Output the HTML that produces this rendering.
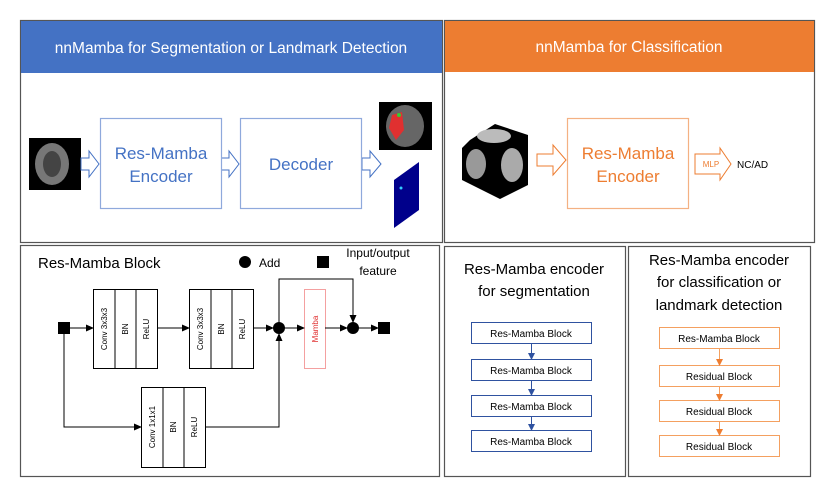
<!DOCTYPE html>
<html><head><meta charset="utf-8"><style>
body{margin:0;background:#fff;}
svg{display:block;font-family:"Liberation Sans",sans-serif;}
</style></head><body>
<svg width="831" height="497" viewBox="0 0 831 497" xmlns="http://www.w3.org/2000/svg">
<defs>
<marker id="ab" markerWidth="8" markerHeight="8" refX="7" refY="4" orient="auto" markerUnits="userSpaceOnUse"><path d="M0,0.5 L8,4 L0,7.5Z" fill="#000"/></marker>
<marker id="abl" markerWidth="7" markerHeight="7" refX="6" refY="3.5" orient="auto" markerUnits="userSpaceOnUse"><path d="M0,0 L7,3.5 L0,7Z" fill="#2f52a0"/></marker>
<marker id="aor" markerWidth="7" markerHeight="7" refX="6" refY="3.5" orient="auto" markerUnits="userSpaceOnUse"><path d="M0,0 L7,3.5 L0,7Z" fill="#ed7d31"/></marker>
</defs>
<rect x="20.5" y="20.5" width="422" height="222" fill="#fff" stroke="#555" stroke-width="1.2"/>
<rect x="21" y="21" width="421" height="52" fill="#4472c4"/>
<text x="231" y="53" font-size="15.5" fill="#fff" text-anchor="middle">nnMamba for Segmentation or Landmark Detection</text>
<rect x="29" y="138" width="52" height="52" fill="#000"/>
<ellipse cx="52" cy="164" rx="17" ry="21" fill="#777"/>
<ellipse cx="52" cy="164" rx="9" ry="13" fill="#444"/>
<g fill="#fff" stroke="#4472c4" stroke-width="1">
<path d="M81,158 L89,158 L89,151 L99,164 L89,177 L89,170 L81,170Z"/>
<path d="M221,158 L229,158 L229,151 L239,164 L229,177 L229,170 L221,170Z"/>
<path d="M362,158 L370,158 L370,151 L381,164 L370,177 L370,170 L362,170Z"/>
</g>
<rect x="100.5" y="118.5" width="121" height="90" fill="#fff" stroke="#8fa9dc" stroke-width="1.2"/>
<text x="161" y="159" font-size="17" fill="#4472c4" text-anchor="middle">Res-Mamba</text>
<text x="161" y="182" font-size="17" fill="#4472c4" text-anchor="middle">Encoder</text>
<rect x="240.5" y="118.5" width="121" height="90" fill="#fff" stroke="#8fa9dc" stroke-width="1.2"/>
<text x="301" y="170" font-size="17" fill="#4472c4" text-anchor="middle">Decoder</text>
<rect x="379" y="102" width="53" height="48" fill="#000"/>
<ellipse cx="405" cy="126" rx="19" ry="21" fill="#666"/>
<path d="M392,115 L402,112 L404,130 L396,140 L389,128Z" fill="#e03030"/>
<circle cx="399" cy="115" r="2" fill="#3c3"/>
<path d="M394,180 L419,162 L419,210 L394,228Z" fill="#00008b"/>
<circle cx="401" cy="188" r="1.5" fill="#3cf"/>
<rect x="444.5" y="20.5" width="370" height="222" fill="#fff" stroke="#555" stroke-width="1.2"/>
<rect x="445" y="21" width="369" height="51" fill="#ed7d31"/>
<text x="629" y="52" font-size="15.5" fill="#fff" text-anchor="middle">nnMamba for Classification</text>
<path d="M470,140 L495,124 L528,135 L528,185 L500,199 L462,180 L462,148Z" fill="#000"/>
<ellipse cx="494" cy="136" rx="17" ry="7" fill="#bbb"/>
<ellipse cx="476" cy="164" rx="10" ry="15" fill="#999"/>
<ellipse cx="512" cy="165" rx="11" ry="17" fill="#aaa"/>
<g fill="#fff" stroke="#ed7d31" stroke-width="1">
<path d="M537,154 L553,154 L553,145 L566,160 L553,175 L553,166 L537,166Z"/>
<path d="M695,154 L720,154 L720,148 L731,164 L720,180 L720,174 L695,174Z"/>
</g>
<text x="711" y="167" font-size="8" fill="#ed7d31" text-anchor="middle">MLP</text>
<text x="737" y="168" font-size="10" fill="#000">NC/AD</text>
<rect x="567.5" y="118.5" width="121" height="90" fill="#fff" stroke="#f4b183" stroke-width="1.2"/>
<text x="628" y="159" font-size="17" fill="#ed7d31" text-anchor="middle">Res-Mamba</text>
<text x="628" y="182" font-size="17" fill="#ed7d31" text-anchor="middle">Encoder</text>
<rect x="20.5" y="245.5" width="419" height="231" fill="#fff" stroke="#555" stroke-width="1.2"/>
<text x="38" y="268" font-size="15" fill="#000">Res-Mamba Block</text>
<circle cx="245" cy="262" r="6" fill="#000"/>
<text x="259" y="267" font-size="12">Add</text>
<rect x="317" y="256" width="12" height="12" fill="#000"/>
<text x="378" y="257" font-size="12" text-anchor="middle">Input/output</text>
<text x="378" y="275" font-size="12" text-anchor="middle">feature</text>
<g stroke="#000" stroke-width="1" fill="#fff">
<rect x="93.5" y="289.5" width="64" height="79"/><line x1="115" y1="289" x2="115" y2="369"/><line x1="136" y1="289" x2="136" y2="369"/>
<rect x="189.5" y="289.5" width="64" height="79"/><line x1="211" y1="289" x2="211" y2="369"/><line x1="232" y1="289" x2="232" y2="369"/>
<rect x="141.5" y="387.5" width="64" height="80"/><line x1="163" y1="387" x2="163" y2="468"/><line x1="184" y1="387" x2="184" y2="468"/>
</g>
<rect x="304.5" y="289.5" width="21" height="79" fill="#fff" stroke="#f4a0a0"/>
<g font-size="8" text-anchor="middle">
<text transform="translate(107,329) rotate(-90)">Conv 3x3x3</text>
<text transform="translate(128,329) rotate(-90)">BN</text>
<text transform="translate(149,329) rotate(-90)">ReLU</text>
<text transform="translate(203,329) rotate(-90)">Conv 3x3x3</text>
<text transform="translate(224,329) rotate(-90)">BN</text>
<text transform="translate(245,329) rotate(-90)">ReLU</text>
<text transform="translate(155,427) rotate(-90)">Conv 1x1x1</text>
<text transform="translate(176,427) rotate(-90)">BN</text>
<text transform="translate(197,427) rotate(-90)">ReLU</text>
<text transform="translate(318,329) rotate(-90)" fill="#e03030">Mamba</text>
</g>
<rect x="58" y="322" width="12" height="12" fill="#000"/>
<rect x="378" y="322" width="12" height="12" fill="#000"/>
<circle cx="279" cy="328" r="6" fill="#000"/>
<circle cx="353" cy="328" r="6" fill="#000"/>
<g stroke="#000" stroke-width="1" fill="none">
<line x1="70" y1="328" x2="93" y2="328" marker-end="url(#ab)"/>
<line x1="157" y1="328" x2="189" y2="328" marker-end="url(#ab)"/>
<line x1="253" y1="328" x2="273" y2="328" marker-end="url(#ab)"/>
<line x1="285" y1="328" x2="304" y2="328" marker-end="url(#ab)"/>
<line x1="325" y1="328" x2="347" y2="328" marker-end="url(#ab)"/>
<line x1="359" y1="328" x2="378" y2="328" marker-end="url(#ab)"/>
<polyline points="279,322 279,279 353,279 353,322" marker-end="url(#ab)"/>
<polyline points="64,334 64,427 141,427" marker-end="url(#ab)"/>
<polyline points="205,427 279,427 279,334" marker-end="url(#ab)"/>
</g>
<rect x="444.5" y="246.5" width="181" height="230" fill="#fff" stroke="#555" stroke-width="1.2"/>
<text x="534" y="274" font-size="15" text-anchor="middle">Res-Mamba encoder</text>
<text x="534" y="296" font-size="15" text-anchor="middle">for segmentation</text>
<g fill="#fff" stroke="#2f52a0" stroke-width="1">
<rect x="471.5" y="322.5" width="120" height="21"/>
<rect x="471.5" y="359.5" width="120" height="21"/>
<rect x="471.5" y="395.5" width="120" height="21"/>
<rect x="471.5" y="430.5" width="120" height="21"/>
<line x1="531.5" y1="344" x2="531.5" y2="359" marker-end="url(#abl)"/>
<line x1="531.5" y1="381" x2="531.5" y2="395" marker-end="url(#abl)"/>
<line x1="531.5" y1="417" x2="531.5" y2="430" marker-end="url(#abl)"/>
</g>
<g font-size="10" text-anchor="middle">
<text x="531" y="337">Res-Mamba Block</text>
<text x="531" y="374">Res-Mamba Block</text>
<text x="531" y="410">Res-Mamba Block</text>
<text x="531" y="445">Res-Mamba Block</text>
</g>
<rect x="628.5" y="246.5" width="182" height="230" fill="#fff" stroke="#555" stroke-width="1.2"/>
<text x="719" y="265" font-size="15" text-anchor="middle">Res-Mamba encoder</text>
<text x="719" y="287" font-size="15" text-anchor="middle">for classification or</text>
<text x="719" y="310" font-size="15" text-anchor="middle">landmark detection</text>
<g fill="#fff" stroke="#f4a060" stroke-width="1">
<rect x="659.5" y="327.5" width="120" height="21"/>
<rect x="659.5" y="365.5" width="120" height="21"/>
<rect x="659.5" y="400.5" width="120" height="21"/>
<rect x="659.5" y="435.5" width="120" height="21"/>
<line x1="719.5" y1="349" x2="719.5" y2="365" marker-end="url(#aor)"/>
<line x1="719.5" y1="387" x2="719.5" y2="400" marker-end="url(#aor)"/>
<line x1="719.5" y1="422" x2="719.5" y2="435" marker-end="url(#aor)"/>
</g>
<g font-size="10" text-anchor="middle">
<text x="719" y="342">Res-Mamba Block</text>
<text x="719" y="380">Residual Block</text>
<text x="719" y="415">Residual Block</text>
<text x="719" y="450">Residual Block</text>
</g>
</svg>
</body></html>
